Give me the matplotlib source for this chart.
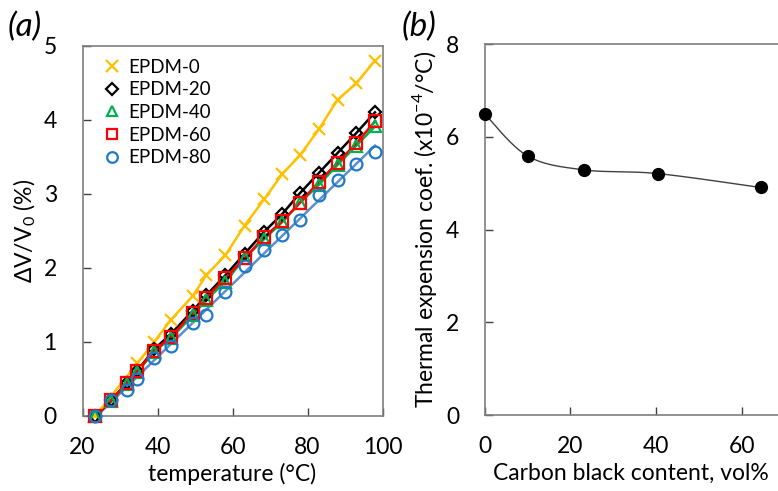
import numpy as np
import matplotlib
matplotlib.use("Agg")
import matplotlib.pyplot as plt

plt.rcParams['font.family'] = ['Lato', 'DejaVu Sans']
plt.rcParams['mathtext.fontset'] = 'custom'
plt.rcParams['mathtext.rm'] = 'Lato'

# ---------------- data: panel (a) ----------------
temperature = [23.4, 27.6, 31.8, 34.6, 39.1, 43.6, 49.4, 53.0, 58.1, 63.2, 68.5, 73.3, 78.0, 83.0, 88.0, 93.0, 98.0]
temp_epdm0 = [23.4, 34.6, 39.1, 43.6, 49.4, 53.0, 58.1, 63.2, 68.5, 73.3, 78.0, 83.0, 88.0, 93.0, 98.0]
epdm0 = [0.0, 0.71, 1.00, 1.30, 1.62, 1.90, 2.17, 2.57, 2.93, 3.27, 3.52, 3.87, 4.27, 4.49, 4.80]
epdm20 = [0.0, 0.21, 0.45, 0.61, 0.90, 1.11, 1.42, 1.63, 1.90, 2.19, 2.49, 2.73, 3.01, 3.28, 3.55, 3.82, 4.10]
epdm40 = [0.0, 0.20, 0.43, 0.59, 0.87, 1.05, 1.36, 1.57, 1.81, 2.13, 2.39, 2.62, 2.88, 3.12, 3.39, 3.65, 3.91]
epdm60 = [0.0, 0.21, 0.44, 0.61, 0.88, 1.07, 1.39, 1.60, 1.86, 2.13, 2.42, 2.63, 2.88, 3.16, 3.42, 3.68, 3.98]
epdm80 = [0.0, 0.22, 0.35, 0.50, 0.78, 0.94, 1.25, 1.37, 1.67, 2.02, 2.24, 2.44, 2.65, 2.98, 3.18, 3.40, 3.57]
series_labels = ['EPDM-0', 'EPDM-20', 'EPDM-40', 'EPDM-60', 'EPDM-80']
a_xticks = [20, 40, 60, 80, 100]
a_yticks = [0, 1, 2, 3, 4, 5]

# ---------------- data: panel (b) ----------------
cb_content = [0.0, 10.0, 23.1, 40.4, 64.4]
tec = [6.50, 5.59, 5.29, 5.21, 4.91]
b_xticks = [0, 20, 40, 60]
b_yticks = [0, 2, 4, 6, 8]

W, H = 778, 491
fig = plt.figure(figsize=(W / 100, H / 100), dpi=100)

def fx(px):
    return px / W

def fy(py):
    return 1 - py / H

ax1 = fig.add_axes([fx(82.5), fy(416), fx(382.5) - fx(82.5), fy(45.7) - fy(416)])
ax2 = fig.add_axes([fx(484.7), fy(415), 1 - fx(484.7), fy(44.3) - fy(415)])

spine_col = '#7f7f7f'
for ax in (ax1, ax2):
    for s in ax.spines.values():
        s.set_color(spine_col)
        s.set_linewidth(1.2)
    ax.tick_params(direction='in', length=6, width=1.0, color='#404040',
                   labelsize=16.5, labelcolor='black')

# ---- panel (a) ----
yellow = '#ffc000'
black = '#000000'
green = '#00b050'
red = '#ff0000'
blue_m = '#1f78c8'
blue_l = '#5b8fcf'

# fitted straight line for EPDM-80
t = np.array(temperature)
coef = np.polyfit(t, np.array(epdm80), 1)
tt = np.array([t[0], t[-1]])
ax1.plot(tt, np.polyval(coef, tt), color=blue_l, lw=1.8, zorder=2)
ax1.plot(temperature, epdm40, color=green, lw=1.8, zorder=2)
ax1.plot(temperature, epdm20, color=black, lw=1.8, zorder=2)
ax1.plot(temperature, epdm60, color=red, lw=1.8, zorder=2)
ax1.plot(temp_epdm0, epdm0, color=yellow, lw=1.8, zorder=2)

mk = dict(ls='none', mfc='none', mew=1.6)
h0, = ax1.plot(temp_epdm0, epdm0, marker='x', color=yellow, ms=9, label=series_labels[0], **mk)
h1, = ax1.plot(temperature, epdm20, marker='D', color=black, ms=6.5, label=series_labels[1], **mk)
h2, = ax1.plot(temperature, epdm40, marker='^', color=green, ms=8, label=series_labels[2], **mk)
h3, = ax1.plot(temperature, epdm60, marker='s', color=red, ms=8.5, label=series_labels[3], **mk)
h4, = ax1.plot(temperature, epdm80, marker='o', color=blue_m, ms=8.5, label=series_labels[4], **mk)
for h in (h0, h1, h2, h3, h4):
    h.set_zorder(3)
    h.set_clip_on(False)

ax1.set_xlim(20, 100)
ax1.set_ylim(0, 5)
ax1.set_xticks(a_xticks)
ax1.set_yticks(a_yticks)
ax1.tick_params(axis='y', pad=18.5)
ax1.tick_params(axis='x', pad=15)
ax1.set_xlabel('temperature (°C)', fontsize=16.5, labelpad=4)
ax1.set_ylabel('ΔV/V$_0$ (%)', fontsize=16.5, labelpad=4)

leg = ax1.legend(loc='upper left', bbox_to_anchor=(0.03, 0.995), frameon=False,
                 fontsize=13.5, handlelength=1.0, handletextpad=0.35,
                 labelspacing=0.3, borderaxespad=0.2, markerscale=0.9)

# ---- panel (b) ----
def catmull_rom(xs, ys, n=40):
    P = np.column_stack([xs, ys]).astype(float)
    P = np.vstack([P[0], P, P[-1]])
    out = []
    for i in range(1, len(P) - 2):
        p0, p1, p2, p3 = P[i - 1], P[i], P[i + 1], P[i + 2]
        m1 = (p2 - p0) / 2.0
        m2 = (p3 - p1) / 2.0
        s = np.linspace(0, 1, n)[:, None]
        h00 = 2 * s**3 - 3 * s**2 + 1
        h10 = s**3 - 2 * s**2 + s
        h01 = -2 * s**3 + 3 * s**2
        h11 = s**3 - s**2
        out.append(h00 * p1 + h10 * m1 + h01 * p2 + h11 * m2)
    C = np.vstack(out)
    return C[:, 0], C[:, 1]

cx, cy = catmull_rom(cb_content, tec)
ax2.plot(cx, cy, color='#404040', lw=1.0, zorder=2)
pts, = ax2.plot(cb_content, tec, ls='none', marker='o', color='black', ms=8.5, zorder=3)
pts.set_clip_on(False)
ax2.set_xlim(0, (W - 484.7) / ((741.7 - 484.7) / 60))
ax2.set_ylim(0, 8)
ax2.set_xticks(b_xticks)
ax2.set_yticks(b_yticks)
ax2.spines['right'].set_visible(False)
ax2.tick_params(axis='y', pad=18.5)
ax2.tick_params(axis='x', pad=15)
ax2.set_xlabel('Carbon black content, vol%', fontsize=16.5, labelpad=4)
ax2.set_ylabel('Thermal expension coef. (x10$^{-4}$/°C)', fontsize=16.5, labelpad=5)

fig.text(fx(8), fy(27), '(a)', fontsize=24, style='italic', va='center', ha='left')
fig.text(fx(402), fy(27), '(b)', fontsize=24, style='italic', va='center', ha='left')

fig.savefig('out.png', dpi=100)
